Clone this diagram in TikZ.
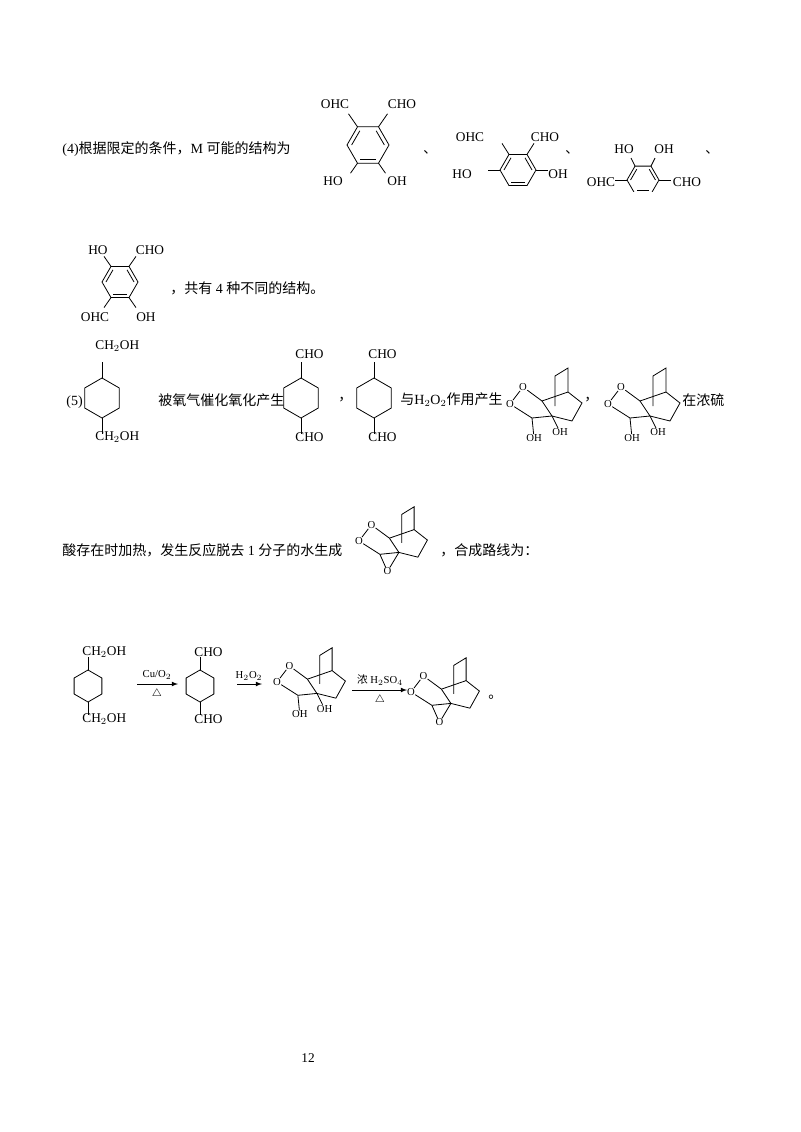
\documentclass[tikz,border=0pt]{standalone}
\usepackage{fontspec}
\setmainfont{Liberation Serif}
\newfontfamily\cjk{Noto Sans CJK SC}
\begin{document}
\begin{tikzpicture}[x=0.75pt,y=-0.75pt,line width=0.6pt,
 lbl/.style={inner sep=0pt,font=\fontsize{10}{10}\selectfont},
 lw/.style={inner sep=0pt,anchor=west,font=\fontsize{10}{10}\selectfont},
 sml/.style={inner sep=0pt,font=\fontsize{8}{8}\selectfont},
 txt/.style={inner sep=0pt,anchor=west,font=\fontsize{10.5}{12}\selectfont}]
\useasboundingbox (0,0) rectangle (800,1132);
\newcommand\hexa[3]{% flat-top benzene
 \begin{scope}[shift={(#1,#2)}]
 \draw (0:#3)--(60:#3)--(120:#3)--(180:#3)--(240:#3)--(300:#3)--cycle;
 \draw (180:#3*0.78)--(240:#3*0.78);
 \draw (300:#3*0.78)--(0:#3*0.78);
 \draw (60:#3*0.78)--(120:#3*0.78);
 \end{scope}}
\newcommand\chx[3]{% pointy top
 \begin{scope}[shift={(#1,#2)}]
 \draw (90:#3)--(150:#3)--(210:#3)--(270:#3)--(330:#3)--(30:#3)--cycle;
 \draw (90:#3)--(90:#3*1.8); \draw (270:#3)--(270:#3*1.8);
 \end{scope}}
\newcommand\tric[4]{% x y scale epoxide?
 \begin{scope}[shift={(#1,#2)},scale=#3]
 \node[sml] (ol) at (0,0) {O}; \node[sml] (ot) at (13,-17) {O};
 \coordinate (ca) at (32,-3); \coordinate (cb) at (22,14); \coordinate (cq) at (42,12);
 \coordinate (b1) at (58,-12); \coordinate (r1) at (72,-1); \coordinate (r2) at (62,17);
 \coordinate (t) at (58,-36); \coordinate (u) at (45,-28); \coordinate (v) at (45,2);
 \draw (ol)--(ot); \draw (ot)--(ca); \draw (ol)--(cb); \draw (ca)--(cq)--(cb);
 \draw (cq)--(r2)--(r1)--(b1)--(t)--(u)--(v); \draw (ca)--(b1);
 \ifnum#4=1
  \node[sml] (oe) at (30,32) {O}; \draw (cb)--(oe)--(cq);
 \else
  \node[sml] (oh1) at (50,28) {OH}; \draw (cq)--(oh1);
  \node[sml] (oh2) at (24,34) {OH}; \draw (cb)--(oh2);
 \fi
 \end{scope}}
% (4)
\node[txt] (t1) at (62,149) {(4){\cjk 根据限定的条件，}M {\cjk 可能的结构为}};
% struct1
\hexa{368}{145}{21}
\draw (378.5,126.8)--++(9,-13); \draw (357.5,126.8)--++(-9,-13);
\draw (357.5,163.2)--++(-7,10); \draw (378.5,163.2)--++(7,10);
\node[lbl] (s1a) at (335,104) {OHC}; \node[lbl] (s1b) at (402,104) {CHO};
\node[lbl] (s1c) at (333,181) {HO}; \node[lbl] (s1d) at (397,181) {OH};
\node[lbl] (d1) at (430,152) {\cjk 、};
% struct2
\hexa{518}{170}{18}
\draw (527,154.4)--++(7,-11); \draw (509,154.4)--++(-7,-11);
\draw (500,170)--++(-12,0); \draw (536,170)--++(12,0);
\node[lbl] (s2a) at (470,137) {OHC}; \node[lbl] (s2b) at (545,137) {CHO};
\node[lbl] (s2c) at (462,174) {HO}; \node[lbl] (s2d) at (558,174) {OH};
\node[lbl] (d2) at (572,152) {\cjk 、};
% struct3
\hexa{643}{180}{16}
\draw (651,166.1)--++(4,-8); \draw (635,166.1)--++(-4,-8);
\draw (627,180)--++(-12,0); \draw (659,180)--++(12,0);
\fill[white] (620,192) rectangle (665,202);
\node[lbl] (s3a) at (624,149) {HO}; \node[lbl] (s3b) at (664,149) {OH};
\node[lbl] (s3c) at (601,182) {OHC}; \node[lbl] (s3d) at (687,182) {CHO};
\node[lbl] (d3) at (712,152) {\cjk 、};
% struct4
\hexa{120}{282}{18}
\draw (129,266.4)--++(7,-10); \draw (111,266.4)--++(-7,-10);
\draw (111,297.6)--++(-7,10); \draw (129,297.6)--++(7,10);
\node[lbl] (s4a) at (98,250) {HO}; \node[lbl] (s4b) at (150,250) {CHO};
\node[lbl] (s4c) at (95,317) {OHC}; \node[lbl] (s4d) at (146,317) {OH};
\node[txt] (t2) at (170,288) {{\cjk ，共有} 4 {\cjk 种不同的结构。}};
% (5)
\node[txt] (t3) at (66,402) {(5)};
\chx{102}{398}{20}
\node[lw] (a1) at (95,346) {CH$_2$OH}; \node[lw] (a2) at (95,437) {CH$_2$OH};
\node[txt] (t4) at (158,400) {\cjk 被氧气催化氧化产生};
\chx{301}{398}{20}
\node[lw] (a3) at (295,354) {CHO}; \node[lw] (a4) at (295,437) {CHO};
\node[txt] (t5) at (338,400) {\cjk ，};
\chx{374}{398}{20}
\node[lw] (a5) at (368,354) {CHO}; \node[lw] (a6) at (368,437) {CHO};
\node[txt] (t6) at (400,400) {{\cjk 与}H$_2$O$_2${\cjk 作用产生}};
\tric{510}{404}{1}{0}
\node[txt] (t7) at (584,400) {\cjk ，};
\tric{608}{404}{1}{0}
\node[txt] (t8) at (682,400) {\cjk 在浓硫};
% line 2
\node[txt] (t9) at (62,550) {{\cjk 酸存在时加热，发生反应脱去} 1 {\cjk 分子的水生成}};
\tric{359}{541}{0.95}{1}
\node[txt] (t10) at (440,550) {\cjk ，合成路线为：};
% route
\chx{88}{686}{16}
\node[lw] (r1) at (82,652) {CH$_2$OH}; \node[lw] (r2) at (82,719) {CH$_2$OH};
\draw[-latex] (137,684)--(178,684);
\node[sml] (c1) at (157,675) {Cu/O$_2$}; \node[sml] (c2) at (157,694) {$\triangle$};
\chx{200}{686}{16}
\node[lw] (r3) at (194,652) {CHO}; \node[lw] (r4) at (194,719) {CHO};
\draw[-latex] (237,684)--(262,684);
\node[sml] (c3) at (249,676) {H$_2$O$_2$};
\tric{277}{682}{0.95}{0}
\draw[-latex] (352,690)--(407,690);
\node[sml] (c4) at (380,680) {{\cjk 浓} H$_2$SO$_4$}; \node[sml] (c5) at (380,700) {$\triangle$};
\tric{411}{692}{0.95}{1}
\node[txt] (t11) at (488,697) {\cjk 。};
\node[lbl] (pg) at (308,1058) {12};
\end{tikzpicture}
\end{document}
